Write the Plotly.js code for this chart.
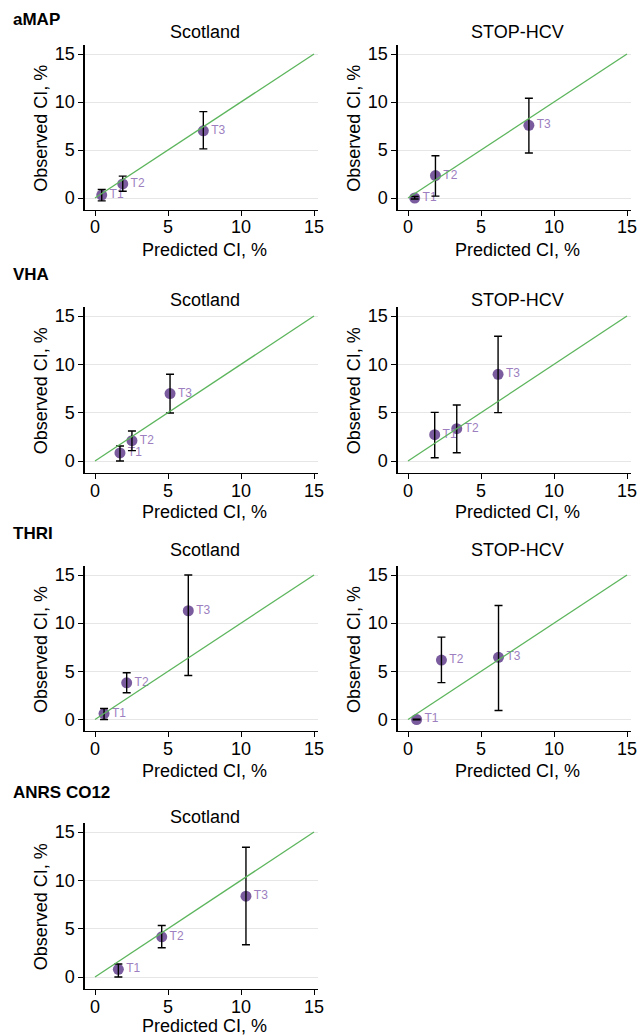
<!DOCTYPE html>
<html>
<head>
<meta charset="utf-8">
<script src="https://cdn.plot.ly/plotly-3.0.1.min.js"></script>
<style>html,body{margin:0;padding:0;background:#fff;}#chart{width:638px;height:1036px;}</style>
</head>
<body>
<div id="chart"></div>
<script>
// ---- data ----
const groupNames = ['aMAP', 'VHA', 'THRI', 'ANRS CO12'];
const cohortNames = ['Scotland', 'STOP-HCV'];
const pointLabels = ['T1', 'T2', 'T3'];
const tickVals = [0, 5, 10, 15];
const diagX = [0, 15];
const diagY = [0, 15];

const aMAP_Scotland_pred = [0.46, 1.9, 7.42];
const aMAP_Scotland_obs  = [0.3, 1.47, 7.0];
const aMAP_Scotland_lo   = [-0.3, 0.7, 5.12];
const aMAP_Scotland_hi   = [0.88, 2.28, 9.0];

const aMAP_STOP_pred = [0.46, 1.88, 8.28];
const aMAP_STOP_obs  = [0.0, 2.34, 7.57];
const aMAP_STOP_lo   = [-0.1, 0.2, 4.68];
const aMAP_STOP_hi   = [0.15, 4.4, 10.39];

const VHA_Scotland_pred = [1.71, 2.53, 5.14];
const VHA_Scotland_obs  = [0.83, 2.1, 6.97];
const VHA_Scotland_lo   = [0.0, 1.07, 4.97];
const VHA_Scotland_hi   = [1.55, 3.1, 8.97];

const VHA_STOP_pred = [1.83, 3.34, 6.17];
const VHA_STOP_obs  = [2.72, 3.34, 8.97];
const VHA_STOP_lo   = [0.34, 0.86, 5.0];
const VHA_STOP_hi   = [5.03, 5.79, 12.9];

const THRI_Scotland_pred = [0.62, 2.17, 6.39];
const THRI_Scotland_obs  = [0.62, 3.81, 11.29];
const THRI_Scotland_lo   = [0.0, 2.77, 4.57];
const THRI_Scotland_hi   = [1.14, 4.85, 15.0];

const THRI_STOP_pred = [0.59, 2.29, 6.2];
const THRI_STOP_obs  = [0.0, 6.17, 6.45];
const THRI_STOP_lo   = [-0.03, 3.83, 0.93];
const THRI_STOP_hi   = [0.03, 8.55, 11.83];

const ANRS_Scotland_pred = [1.6, 4.57, 10.34];
const ANRS_Scotland_obs  = [0.79, 4.16, 8.36];
const ANRS_Scotland_lo   = [0.0, 3.03, 3.34];
const ANRS_Scotland_hi   = [1.34, 5.33, 13.42];

// ---- layout helpers ----
const W = 638, H = 1036;
const FONT = 'Liberation Sans, Arial, Helvetica, sans-serif';
const markerColor = '#7a5c9e';
const labelColor = '#9d7fc0';
const lineColor = '#5cb55c';
const xRange = [-0.7, 15.3];
const yRange = [-1.2, 15.9];
const colX0 = [95, 408];      // pixel of x=0
const colX15 = [314, 627];    // pixel of x=15
const rowY0 = [198, 461, 719.5, 977];   // pixel of y=0
const rowY15 = [54, 316, 575, 832];     // pixel of y=15
const rowGroupLabelY = [20, 274, 533, 792];
const rowTitleY = [32, 300, 550, 817];
const rowXTitleY = [250, 512, 771, 1026];

const panels = [
  {row: 0, col: 0, pred: aMAP_Scotland_pred, obs: aMAP_Scotland_obs, lo: aMAP_Scotland_lo, hi: aMAP_Scotland_hi},
  {row: 0, col: 1, pred: aMAP_STOP_pred, obs: aMAP_STOP_obs, lo: aMAP_STOP_lo, hi: aMAP_STOP_hi},
  {row: 1, col: 0, pred: VHA_Scotland_pred, obs: VHA_Scotland_obs, lo: VHA_Scotland_lo, hi: VHA_Scotland_hi},
  {row: 1, col: 1, pred: VHA_STOP_pred, obs: VHA_STOP_obs, lo: VHA_STOP_lo, hi: VHA_STOP_hi},
  {row: 2, col: 0, pred: THRI_Scotland_pred, obs: THRI_Scotland_obs, lo: THRI_Scotland_lo, hi: THRI_Scotland_hi},
  {row: 2, col: 1, pred: THRI_STOP_pred, obs: THRI_STOP_obs, lo: THRI_STOP_lo, hi: THRI_STOP_hi},
  {row: 3, col: 0, pred: ANRS_Scotland_pred, obs: ANRS_Scotland_obs, lo: ANRS_Scotland_lo, hi: ANRS_Scotland_hi}
];

const data = [];
const layout = {
  width: W, height: H,
  margin: {l: 0, r: 0, t: 0, b: 0},
  paper_bgcolor: '#fff', plot_bgcolor: '#fff',
  showlegend: false,
  font: {family: FONT, size: 17, color: '#000'},
  annotations: []
};

panels.forEach((p, i) => {
  const n = i + 1;
  const xa = 'x' + (n === 1 ? '' : n), ya = 'y' + (n === 1 ? '' : n);
  const xk = 'xaxis' + (n === 1 ? '' : n), yk = 'yaxis' + (n === 1 ? '' : n);
  const sx = (colX15[p.col] - colX0[p.col]) / 15;
  const sy = (rowY0[p.row] - rowY15[p.row]) / 15;
  const left = colX0[p.col] + xRange[0] * sx;
  const right = colX0[p.col] + xRange[1] * sx;
  const bottom = rowY0[p.row] - yRange[0] * sy;
  const top = rowY0[p.row] - yRange[1] * sy;

  layout[xk] = {
    domain: [left / W, right / W], range: xRange, anchor: ya,
    tickvals: tickVals, ticks: 'outside', ticklen: 5, tickwidth: 1, tickcolor: '#000',
    ticklabelstandoff: -4,
    showline: true, linecolor: '#000', linewidth: 1.3, showgrid: false, zeroline: false,
    tickfont: {family: FONT, size: 18, color: '#000'}, fixedrange: true
  };
  layout[yk] = {
    domain: [1 - bottom / H, 1 - top / H], range: yRange, anchor: xa,
    tickvals: tickVals, ticks: 'outside', ticklen: 5, tickwidth: 1, tickcolor: '#000',
    showline: true, linecolor: '#000', linewidth: 1.3, showgrid: true, gridcolor: '#e6e6e6', gridwidth: 1,
    zeroline: false, tickfont: {family: FONT, size: 18, color: '#000'}, fixedrange: true
  };

  // markers + labels
  data.push({
    type: 'scatter', mode: 'markers+text', x: p.pred, y: p.obs, xaxis: xa, yaxis: ya,
    text: pointLabels, textposition: 'middle right',
    textfont: {family: FONT, size: 12, color: labelColor},
    marker: {color: markerColor, size: 11}, cliponaxis: false, hoverinfo: 'skip'
  });
  // error bars on top
  data.push({
    type: 'scatter', mode: 'markers', x: p.pred, y: p.obs, xaxis: xa, yaxis: ya,
    marker: {size: 1, opacity: 0},
    error_y: {type: 'data', symmetric: false,
      array: p.hi.map((h, k) => h - p.obs[k]),
      arrayminus: p.lo.map((l, k) => p.obs[k] - l),
      color: '#000', thickness: 1.4, width: 4},
    hoverinfo: 'skip'
  });
  // 45-degree reference line
  data.push({
    type: 'scatter', mode: 'lines', x: diagX, y: diagY, xaxis: xa, yaxis: ya,
    line: {color: lineColor, width: 1.3}, hoverinfo: 'skip'
  });

  const cx = (colX0[p.col] + colX15[p.col]) / 2;
  layout.annotations.push({
    xref: 'paper', yref: 'paper', x: cx / W, y: 1 - rowTitleY[p.row] / H,
    text: cohortNames[p.col], showarrow: false, xanchor: 'center', yanchor: 'middle',
    font: {family: FONT, size: 18, color: '#000'}
  });
  layout.annotations.push({
    xref: 'paper', yref: 'paper', x: cx / W, y: 1 - rowXTitleY[p.row] / H,
    text: 'Predicted CI, %', showarrow: false, xanchor: 'center', yanchor: 'middle',
    font: {family: FONT, size: 18, color: '#000'}
  });
  layout.annotations.push({
    xref: 'paper', yref: 'paper', x: (left - 44) / W, y: 1 - ((rowY0[p.row] + rowY15[p.row]) / 2 + 2) / H,
    text: 'Observed CI, %', showarrow: false, xanchor: 'center', yanchor: 'middle', textangle: -90,
    font: {family: FONT, size: 18, color: '#000'}
  });
});

groupNames.forEach((g, r) => {
  layout.annotations.push({
    xref: 'paper', yref: 'paper', x: 11 / W, y: 1 - rowGroupLabelY[r] / H,
    text: '<b>' + g + '</b>', showarrow: false, xanchor: 'left', yanchor: 'middle',
    font: {family: FONT, size: 17, color: '#000'}
  });
});

Plotly.newPlot('chart', data, layout, {staticPlot: true, displayModeBar: false});
</script>
</body>
</html>
